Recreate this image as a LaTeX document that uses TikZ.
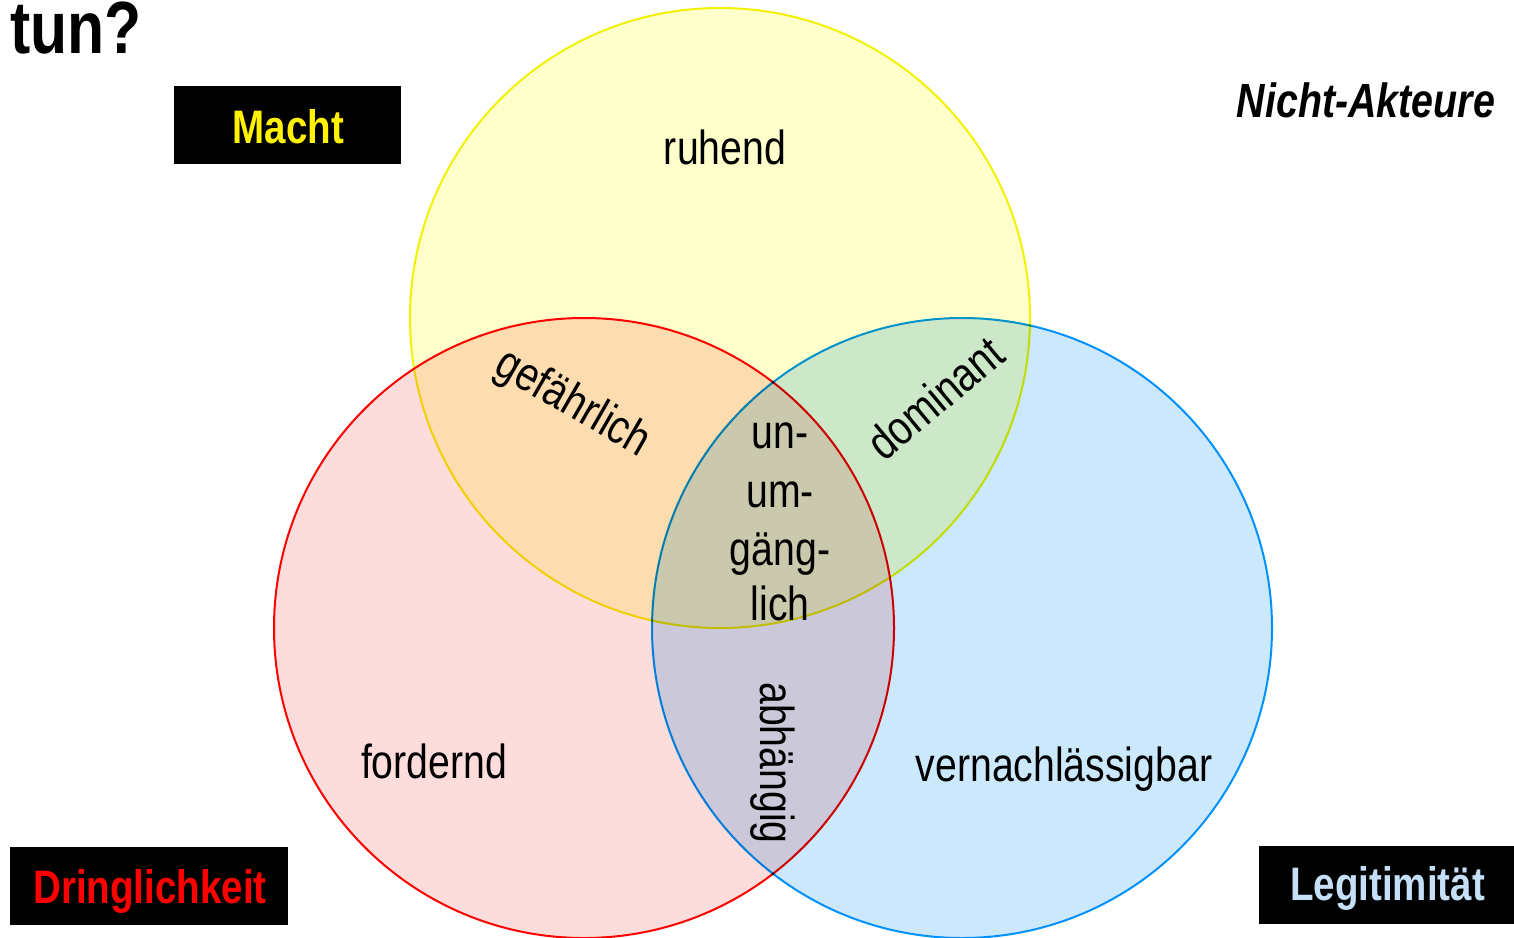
\documentclass[tikz,border=0pt]{standalone}
\usepackage{fontspec}
\setmainfont{Liberation Sans}[FakeStretch=0.82]
\usetikzlibrary{positioning}
\definecolor{yfill}{HTML}{FFFFCC}
\definecolor{ydraw}{HTML}{F2F200}
\definecolor{rfill}{HTML}{FDDCDC}
\definecolor{rdraw}{HTML}{FF0000}
\definecolor{bfill}{HTML}{CCE8FC}
\definecolor{bdraw}{HTML}{0099FF}
\definecolor{legblue}{HTML}{C6DFF8}
\tikzset{
  venn/.style={line width=1pt, blend mode=multiply},
  lbl/.style={font=\fontsize{23.9}{27}\selectfont, inner sep=0pt},
  blackbox/.style={fill=black, draw=none, inner sep=0pt, minimum height=39pt},
  boxtext/.style={font=\fontsize{23.5}{27}\selectfont\bfseries, inner sep=0pt, anchor=base},
}
\begin{document}
\begin{tikzpicture}[x=0.5pt, y=-0.5pt]
\useasboundingbox (0,0) rectangle (1514,937);
% circles
\begin{scope}[blend group=multiply]
\draw[venn, fill=yfill, draw=ydraw] (720,318) circle[radius=155pt];
\draw[venn, fill=rfill, draw=rdraw] (584,628) circle[radius=155pt];
\draw[venn, fill=bfill, draw=bdraw] (962,628) circle[radius=155pt];
\end{scope}
% title fragment
\node[font=\fontsize{37}{40}\selectfont\bfseries, inner sep=0pt, anchor=base west] (tun) at (10,53) {tun?};
% boxes
\node[blackbox, minimum width=113.5pt] (machtbox) at (287.5,125) {};
\node[boxtext, text=yellow] (macht) at (288.5,143) {Macht};
\node[blackbox, minimum width=139pt] (dringbox) at (149,886) {};
\node[boxtext, text=red] (dring) at (150,903) {Dringlichkeit};
\node[blackbox, minimum width=127.5pt] (legbox) at (1386.5,885) {};
\node[boxtext, text=legblue] (leg) at (1387.5,900) {Legitimität};
\node[font=\fontsize{24}{27}\selectfont\bfseries\itshape, inner sep=0pt, anchor=base] (nicht) at (1366,117) {Nicht-Akteure};
% region labels
\node[lbl, anchor=base] (ruhend) at (725,164) {ruhend};
\node[lbl, anchor=base] (fordernd) at (434,778) {fordernd};
\node[lbl, anchor=base] (vern) at (1064,781) {vernachlässigbar};
\node[lbl, rotate=-30] (gef) at (572,404) {gefährlich};
\node[lbl, rotate=40] (dom) at (935,398) {dominant};
\node[lbl, rotate=-90] (abh) at (773,763) {abhängig};
\node[lbl, anchor=base] (l1) at (780,448) {un-};
\node[lbl, anchor=base] (l2) at (780,507) {um-};
\node[lbl, anchor=base] (l3) at (780,565) {gäng-};
\node[lbl, anchor=base] (l4) at (780,620) {lich};
\end{tikzpicture}
\end{document}
